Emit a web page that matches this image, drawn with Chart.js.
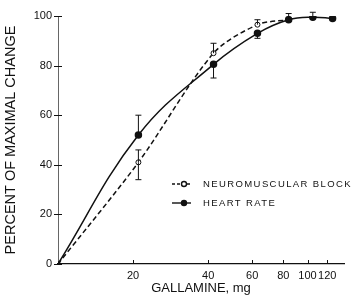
<!DOCTYPE html>
<html>
<head>
<meta charset="utf-8">
<script src="https://cdn.jsdelivr.net/npm/chart.js@4/dist/chart.umd.min.js"></script>
<style>
html,body{margin:0;padding:0;background:#fff;}
#wrap{width:354px;height:296px;position:relative;}
</style>
</head>
<body>
<div id="wrap"><canvas id="c" width="354" height="296"></canvas></div>
<script>
// ---- data ----
const doseHR = [10, 21, 42, 63, 84, 105, 126];
const heartRate = [0, 52, 80.5, 93, 98.5, 99.5, 99];
const hrUpper = [null, 60, null, null, null, 101.5, null];
const hrLower = [null, null, 75, 91, null, null, null];

const doseNM = [10, 21, 42, 63, 84];
const neuroBlock = [0, 41, 85, 96.5, 98.5];
const nmUpper = [null, 46, 89, 98.5, 101];
const nmLower = [null, 34, null, null, null];

const xTicks = [20, 40, 60, 80, 100, 120];
const yTicks = [0, 20, 40, 60, 80, 100];
const seriesNames = ['NEUROMUSCULAR BLOCK', 'HEART RATE'];

const FONT = "'Liberation Sans', Arial, sans-serif";
const INK = '#111';

function pts(xs, ys){ return xs.map((x,i)=>({x:x, y:ys[i]})); }

const errorBars = {
  id:'errorBars',
  afterDatasetsDraw(chart){
    const ctx = chart.ctx, xs = chart.scales.x, ys = chart.scales.y;
    const sets = [[doseHR, heartRate, hrUpper, hrLower],[doseNM, neuroBlock, nmUpper, nmLower]];
    ctx.save(); ctx.strokeStyle = INK; ctx.lineWidth = 1;
    sets.forEach(([dx, v, up, lo])=>{
      dx.forEach((d,i)=>{
        const px = xs.getPixelForValue(d), py = ys.getPixelForValue(v[i]);
        [up[i], lo[i]].forEach(e=>{
          if(e==null) return;
          const ey = ys.getPixelForValue(e);
          ctx.beginPath(); ctx.moveTo(px, py); ctx.lineTo(px, ey);
          ctx.moveTo(px-3, ey); ctx.lineTo(px+3, ey); ctx.stroke();
        });
      });
    });
    ctx.restore();
  }
};

const axisMarks = {
  id:'axisMarks',
  afterDraw(chart){
    const ctx = chart.ctx, xs = chart.scales.x, ys = chart.scales.y, a = chart.chartArea;
    ctx.save(); ctx.strokeStyle = INK; ctx.lineWidth = 1;
    xTicks.forEach(t=>{
      const px = Math.round(xs.getPixelForValue(t))+0.5;
      ctx.beginPath(); ctx.moveTo(px, a.bottom); ctx.lineTo(px, a.bottom-4); ctx.stroke();
    });
    yTicks.forEach(t=>{
      const py = Math.round(ys.getPixelForValue(t))+0.5;
      ctx.beginPath(); ctx.moveTo(a.left-4, py); ctx.lineTo(a.left+4, py); ctx.stroke();
    });
    // legend
    const lx = 172, ly = [184, 203];
    ctx.font = '9.5px ' + FONT; ctx.fillStyle = INK; ctx.textBaseline = 'middle';
    ctx.lineWidth = 1.4;
    ly.forEach((y,i)=>{
      ctx.beginPath();
      ctx.setLineDash(i===0 ? [3,2] : []);
      ctx.moveTo(lx, y); ctx.lineTo(lx+19, y); ctx.stroke();
      ctx.setLineDash([]);
      ctx.beginPath(); ctx.arc(lx+12, y, 2.5, 0, Math.PI*2);
      ctx.fillStyle = i===0 ? '#fff' : INK; ctx.fill(); ctx.stroke();
      ctx.fillStyle = INK;
      ctx.letterSpacing = '1.4px';
      ctx.fillText(seriesNames[i], lx+31, y);
      ctx.letterSpacing = '0px';
    });
    ctx.restore();
  }
};

new Chart(document.getElementById('c'), {
  type:'line',
  data:{
    datasets:[
      { label: seriesNames[1], data: pts(doseHR, heartRate), borderColor: INK, borderWidth: 1.5,
        pointRadius: heartRate.map((v,i)=> i===0 ? 2 : 3), pointBackgroundColor: INK, pointBorderColor: INK,
        tension:0.4, fill:false },
      { label: seriesNames[0], data: pts(doseNM, neuroBlock), borderColor: INK, borderWidth: 1.5, borderDash:[5,3],
        pointRadius: neuroBlock.map((v,i)=> i===0 ? 0 : 2.5), pointBackgroundColor:'#fff', pointBorderColor: INK, pointBorderWidth:1,
        tension:0.3, fill:false }
    ]
  },
  options:{
    responsive:false, animation:false, devicePixelRatio:1,
    layout:{ padding:{ top:16, right:10, left:0, bottom:0 } },
    plugins:{ legend:{display:false}, tooltip:{enabled:false} },
    scales:{
      x:{ type:'logarithmic', min:10, max:140,
        afterBuildTicks(s){ s.ticks = xTicks.map(v=>({value:v})); },
        afterFit(s){ s.height = 32; },
        grid:{ display:true, drawOnChartArea:false, drawTicks:false },
        border:{ display:true, color: INK, width:1.2 },
        ticks:{ autoSkip:false, maxRotation:0, padding:5, color: INK, font:{ family: FONT, size:11 },
          callback:(v)=> String(v) },
        title:{ display:true, text:'GALLAMINE, mg', color: INK, font:{ family: FONT, size:13 }, padding:{top:0, bottom:0} }
      },
      y:{ min:0, max:100,
        afterBuildTicks(s){ s.ticks = yTicks.map(v=>({value:v})); },
        afterFit(s){ s.width = 58; },
        grid:{ display:true, drawOnChartArea:false, drawTicks:false },
        border:{ display:true, color:'#666', width:1, dash:[2,2] },
        ticks:{ padding:6, color: INK, font:{ family: FONT, size:11 } },
        title:{ display:true, text:'PERCENT OF MAXIMAL CHANGE', color: INK, font:{ family: FONT, size:14.5 }, padding:{top:2,bottom:0} }
      }
    }
  },
  plugins:[errorBars, axisMarks]
});
</script>
</body>
</html>
